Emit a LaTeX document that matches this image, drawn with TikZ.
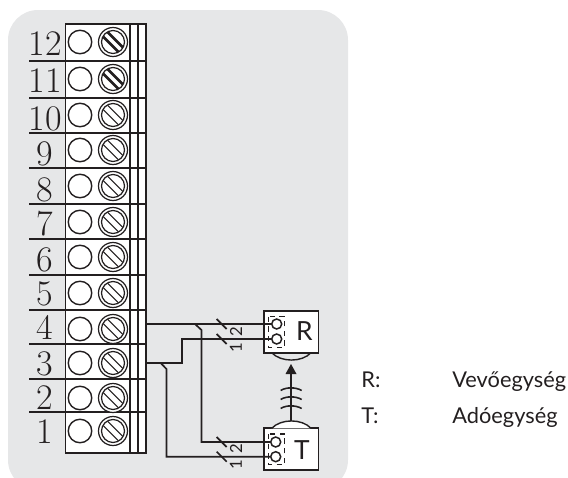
\documentclass[tikz,border=0pt]{standalone}
\usepackage{fontspec}
\newfontfamily\unitfont{Lato}
\newfontfamily\rowfont{Latin Modern Roman}
\usepackage{xcolor}
\definecolor{panel}{HTML}{E6E7E8}
\definecolor{ink}{HTML}{231F20}
\tikzset{
  wire/.style={draw=ink, line width=0.95pt},
  termhole/.style={circle, draw=ink, fill=white, line width=0.8pt, minimum size=0.47cm, inner sep=0pt},
  rowlabel/.style={anchor=base, inner sep=0pt, font=\rowfont\fontsize{20.5}{22}\selectfont, text=ink},
  pin/.style={circle, draw=ink, fill=white, line width=0.85pt, minimum size=0.2cm, inner sep=0pt},
  unitbox/.style={rectangle, draw=ink, fill=white, line width=1pt, minimum width=1.09cm, minimum height=0.84cm, inner sep=0pt},
  unitname/.style={inner sep=0pt, font=\unitfont\fontsize{15}{16}\selectfont, text=ink},
  wirecount/.style={rotate=90, inner sep=0pt, font=\unitfont\fontsize{9.5}{10}\selectfont, text=ink},
  legend/.style={anchor=base west, inner sep=0pt, font=\unitfont\fontsize{12.4}{15}\selectfont, text=ink}
}
\begin{document}
\begin{tikzpicture}[x=0.02cm, y=-0.02cm]
    \useasboundingbox (0,0) rectangle (568,477);
    \fill[panel, rounded corners=0.6cm] (8,10) rectangle (348,490);

    % terminal block
    \draw[fill=white, line width=1pt, draw=ink] (65.5,24) rectangle (146,453);
    \draw[wire] (130,24) -- (130,453);
    \draw[wire] (138,24) -- (138,453);
    \foreach \ly in {61,98,133,168,204,239,275,310,344,379,412}
        \draw[wire] (29,\ly) -- (146,\ly);

    \foreach \n/\cy/\by in {12/42/55, 11/79/92, 10/115/130, 9/150/165, 8/186/201.5, 7/222/235, 6/257/271.5, 5/293/305, 4/329/339, 3/363/375.5, 2/398/409.5, 1/431/443} {
        \node[rowlabel] (lab\n) at (45,\by) {\n};
        \node[termhole] (hole\n) at (80,\cy) {};
        \draw[ink, fill=white, line width=0.7pt] (113,\cy) circle (14.5);
        \draw[ink, line width=0.7pt] (113,\cy) circle (11.5);
        \draw[ink, line width=0.6pt] (103.3,\cy-5.3) -- (118.3,\cy+9.7);
        \draw[ink, line width=0.6pt] (107.7,\cy-9.7) -- (122.7,\cy+5.3);
    }
    \foreach \cy in {42,79} {
        \draw[ink, line width=1.5pt] (103.3,\cy-5.3) -- (118.3,\cy+9.7);
        \draw[ink, line width=1.5pt] (107.7,\cy-9.7) -- (122.7,\cy+5.3);
    }

    % units
    \node[unitbox] (unitR) at (291.3,331.7) {};
    \node[unitbox] (unitT) at (291.3,449.3) {};
    \node[unitname] (txtR) at (304.5,331.5) {R};
    \node[unitname] (txtT) at (302,449.8) {T};
    \node[pin] (r1) at (276.7,324) {};
    \node[pin] (r2) at (276.7,339) {};
    \node[pin] (t1) at (275.7,442) {};
    \node[pin] (t2) at (275.7,456.7) {};
    \draw[ink, line width=0.6pt, dash pattern=on 3pt off 2.5pt] (268.7,316.7) rectangle (284.7,347.3);
    \draw[ink, line width=0.6pt, dash pattern=on 3pt off 2.5pt] (268.7,434) rectangle (284.7,464.7);

    % wires
    \coordinate (out4) at (146,324);
    \coordinate (out3) at (146,363);
    \coordinate (tap4) at (195,324);
    \coordinate (tap3) at (160.7,363);
    \draw[wire] (out4) -- (r1);
    \draw[wire] (out3) -- (182,363) -- (182,339) -- (r2);
    \draw[wire] (tap4) -- (201.5,330) -- (201.5,442) -- (t1);
    \draw[wire] (tap3) -- (166.5,369) -- (166.5,456.7) -- (t2);

    \foreach \sy/\nm/\ly in {324/2/332, 339/1/348, 442/2/449, 456.7/1/465} {
        \draw[ink, line width=1pt] (216.7,\sy-5) -- (226.7,\sy+5);
        \node[wirecount] at (236,\ly) {\nm};
    }

    % radio link
    \draw[ink, line width=0.8pt] (271.7,352.7) .. controls (281,362.5) and (302,362.5) .. (311,352.7);
    \draw[ink, fill=white, line width=0.8pt] (271.7,428.3) .. controls (281,418.5) and (302,418.5) .. (311,428.3);
    \coordinate (linkfoot) at (291,421);
    \coordinate (linktip) at (291,374);
    \draw[wire] (linkfoot) -- (linktip);
    \fill[ink] (291,364) -- (296.5,374) -- (285.5,374) -- cycle;
    \foreach \wy in {389,398,407}
        \draw[ink, line width=0.9pt] (280.7,\wy+1.5) .. controls (286,\wy-2) and (296,\wy-2) .. (301.7,\wy+1.5);

    % legend
    \node[legend] (keyR) at (361,387) {R:};
    \node[legend] (valR) at (452,387) {Vevőegység};
    \node[legend] (keyT) at (361,423) {T:};
    \node[legend] (valT) at (452,423) {Adóegység};
\end{tikzpicture}
\end{document}
